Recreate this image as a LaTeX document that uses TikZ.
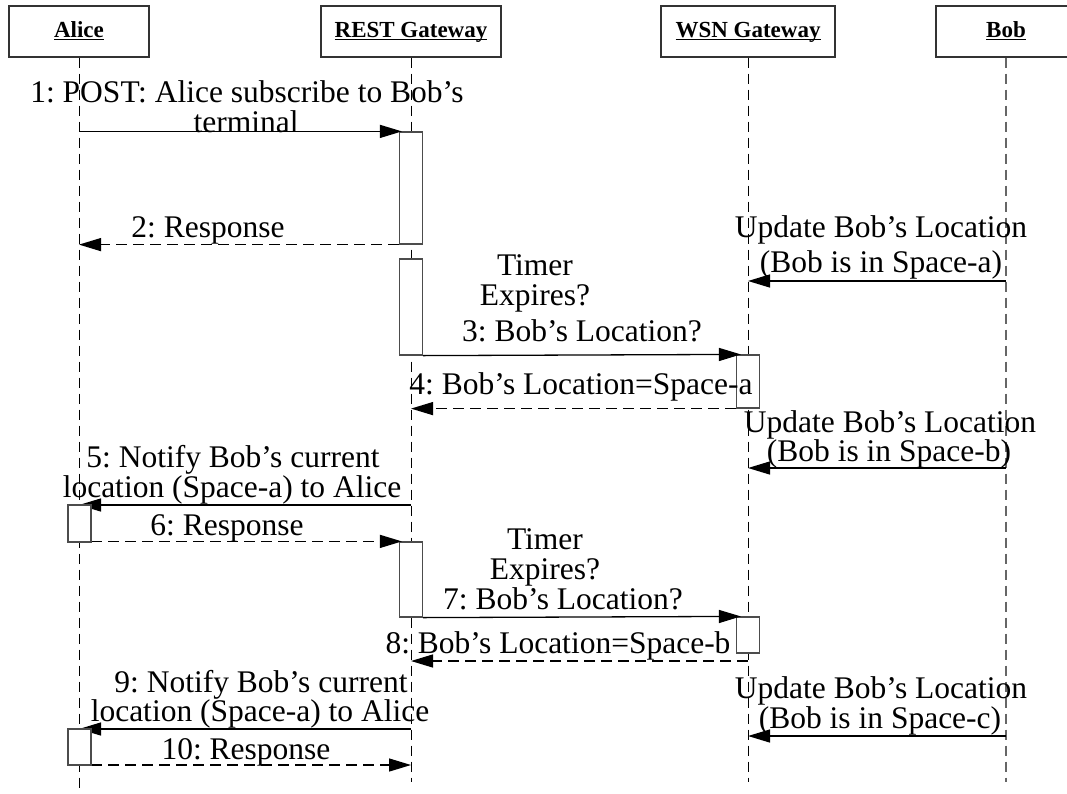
\documentclass[tikz,border=0pt]{standalone}
\usepackage{fontspec}
\setmainfont{Liberation Serif}
\usetikzlibrary{arrows.meta}
% bold object name with a rule just under the baseline
\newcommand\headtext[1]{\rlap{#1}\setbox0=\hbox{#1}\rule[-2.8pt]{\wd0}{1.3pt}}
\frenchspacing
\begin{document}
\begin{tikzpicture}[x=1pt,y=-1pt,
  head/.style={draw=black!80, line width=1.2pt, fill=white, minimum height=51pt,
    inner sep=0pt, text height=15.2pt, text depth=3.6pt,
    font=\fontsize{23}{25}\selectfont\bfseries},
  life/.style={line width=1pt, dash pattern=on 10pt off 6pt},
  act/.style={draw=black!70, line width=1.2pt, fill=white, minimum width=23pt, inner sep=0pt},
  msg/.style={line width=1.3pt, -{Triangle[length=22pt,width=13pt]}},
  reply/.style={msg, dash pattern=on 11pt off 6pt},
  lbl/.style={anchor=base, inner sep=0pt, font=\fontsize{31.5}{31.5}\selectfont},
]
\useasboundingbox (0,0) rectangle (1067,793);
\clip (0,0) rectangle (1067,793);
\fill[white] (0,0) rectangle (1067,793);

% objects
\node[head, minimum width=140pt] (alice) at (79,31.5)   {\headtext{Alice}};
\node[head, minimum width=180pt] (rest)  at (411,31.5)  {\headtext{REST Gateway}};
\node[head, minimum width=174pt] (wsn)   at (748,31.5)  {\headtext{WSN Gateway}};
\node[head, minimum width=140pt] (bob)   at (1006,31.5) {\headtext{Bob}};

% lifelines
\coordinate (endA) at (0,793);
\coordinate (endL) at (0,782);
\draw[life] (alice.south) -- (alice.south |- endA);
\draw[life] (rest.south) -- (rest.south |- endL);
\draw[life] (wsn.south) -- (wsn.south |- endL);
\draw[life, draw=black!60, line width=1.6pt] (bob.south) -- (bob.south |- endL);

% activations on the gateways
\node[act, minimum height=112pt] (r1) at (411,188)   {};
\node[act, minimum height=96pt]  (r2) at (411,307)   {};
\node[act, minimum height=75pt]  (r3) at (411,579.5) {};
\node[act, minimum height=53pt]  (w1) at (748,381.5) {};
\node[act, minimum height=36pt]  (w2) at (748,635)   {};

% message rows without an activation box
\coordinate (y5)  at (0,505);
\coordinate (y8)  at (0,661);
\coordinate (y9)  at (0,729);
\coordinate (y10) at (0,765);
\coordinate (ua)  at (0,281);
\coordinate (ub)  at (0,468);
\coordinate (uc)  at (0,736);

% messages
\draw[msg]   (alice |- r1.north) -- ([xshift=3pt]r1.north west);
\draw[reply] (r1.south west) -- (alice |- r1.south);
\draw[msg]   (r2.south east) -- ([xshift=5pt]w1.north west);
\draw[reply] (w1.south west) -- (rest |- w1.south);
\draw[msg]   (rest |- y5) -- (alice |- y5);
\draw[reply] ([xshift=12pt]alice |- r3.north) -- ([xshift=3pt]r3.north west);
\draw[msg]   (r3.south east) -- ([xshift=5pt]w2.north west);
\draw[reply] (wsn |- y8) -- (rest |- y8);
\draw[msg]   (rest |- y9) -- (alice |- y9);
\draw[reply] ([xshift=12pt]alice |- y10) -- (rest |- y10);

\draw[msg] (bob |- ua) -- (wsn |- ua);
\draw[msg] (bob |- ub) -- (wsn |- ub);
\draw[msg] (bob |- uc) -- (wsn |- uc);

% activations on Alice
\node[act, minimum height=37pt] (a1) at (79.5,523.5) {};
\node[act, minimum height=36pt] (a2) at (79.5,747)   {};

% labels
\node[lbl] (l1a) at (247,102) {1: POST: Alice subscribe to Bob’s};
\node[lbl] (l1b) at (246,132) {terminal};
\node[lbl] (l2)  at (208,237) {2: Response};
\node[lbl] (t1a) at (535,275) {Timer};
\node[lbl] (t1b) at (535,305) {Expires?};
\node[lbl] (l3)  at (582,341) {3: Bob’s Location?};
\node[lbl] (l4)  at (581,394) {4: Bob’s Location=Space-a};
\node[lbl] (ua1) at (881,237) {Update Bob’s Location};
\node[lbl] (ua2) at (881,272) {(Bob is in Space-a)};
\node[lbl] (ub1) at (890,432) {Update Bob’s Location};
\node[lbl] (ub2) at (889,461) {(Bob is in Space-b)};
\node[lbl] (l5a) at (233,467) {5: Notify Bob’s current};
\node[lbl] (l5b) at (232,497) {location (Space-a) to Alice};
\node[lbl] (l6)  at (227,535) {6: Response};
\node[lbl] (t2a) at (545,549) {Timer};
\node[lbl] (t2b) at (545,579) {Expires?};
\node[lbl] (l7)  at (563,609) {7: Bob’s Location?};
\node[lbl] (l8)  at (558,653) {8: Bob’s Location=Space-b};
\node[lbl] (l9a) at (261,692) {9: Notify Bob’s current};
\node[lbl] (l9b) at (260,721) {location (Space-a) to Alice};
\node[lbl] (l10) at (246,759) {10: Response};
\node[lbl] (uc1) at (881,698) {Update Bob’s Location};
\node[lbl] (uc2) at (880,728) {(Bob is in Space-c)};
\end{tikzpicture}
\end{document}
